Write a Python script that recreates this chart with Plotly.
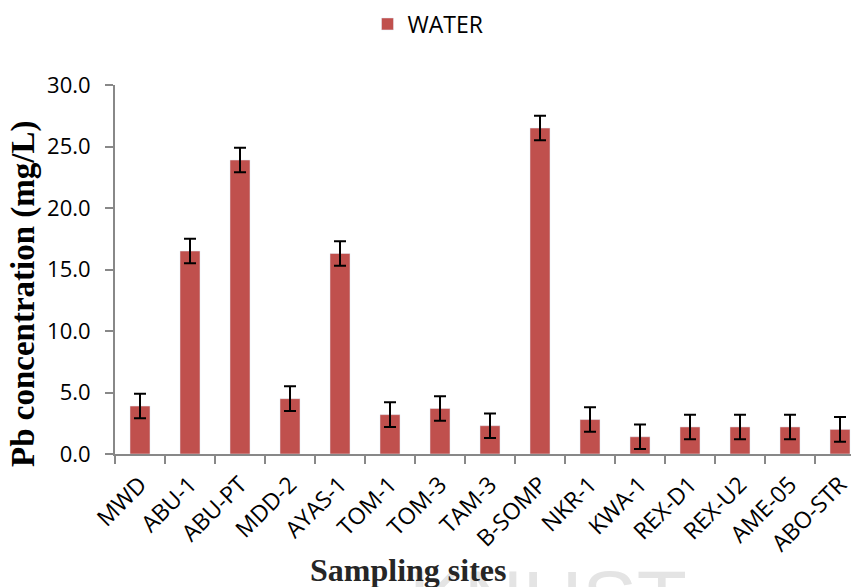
import plotly.graph_objects as go

sites = ["MWD", "ABU-1", "ABU-PT", "MDD-2", "AYAS-1", "TOM-1", "TOM-3", "TAM-3",
         "B-SOMP", "NKR-1", "KWA-1", "REX-D1", "REX-U2", "AME-05", "ABO-STR"]
pb_water = [3.9, 16.5, 23.9, 4.5, 16.3, 3.2, 3.7, 2.3, 26.5, 2.8, 1.4, 2.2, 2.2, 2.2, 2.0]
pb_err = [1.0, 1.0, 1.0, 1.0, 1.0, 1.0, 1.0, 1.0, 1.0, 1.0, 1.0, 1.0, 1.0, 1.0, 1.0]
y_ticks = [0, 5, 10, 15, 20, 25, 30]

W, H = 851, 579          # page body adds an 8px offset
L, T, PW, PH = 107, 77, 744, 369


def px(x):
    return (x - L) / PW


def py(y):
    return (T + PH - y) / PH


fig = go.Figure()
fig.add_trace(go.Bar(
    x=sites, y=pb_water, name="WATER",
    marker=dict(color="#C0504D"),
    width=0.4,
    error_y=dict(type="data", array=pb_err, visible=True, color="black",
                 thickness=2, width=6),
))

fig.update_layout(
    width=W, height=H,
    margin=dict(l=L, r=W - L - PW, t=T, b=H - T - PH, autoexpand=False),
    plot_bgcolor="white", paper_bgcolor="white",
    showlegend=True,
    legend=dict(orientation="h", xref="container", yref="container",
                x=420 / W, xanchor="center", y=1 - 16 / H, yanchor="middle",
                font=dict(family="Open Sans", size=23, color="black")),
    xaxis=dict(type="category", range=[-0.5, 14.38], automargin=False,
               showline=True, linecolor="#888888", linewidth=2,
               ticks="outside", tickson="boundaries", ticklen=8, tickcolor="#888888", tickwidth=2,
               tickangle=-45, ticklabelstandoff=6,
               tickfont=dict(family="Open Sans", size=23, color="black"),
               showgrid=False),
    yaxis=dict(range=[0, 30], tickvals=y_ticks, tickformat=".1f", automargin=False,
               showline=True, linecolor="#888888", linewidth=2,
               ticks="outside", ticklen=8, tickcolor="#888888", tickwidth=2,
               ticklabelstandoff=10,
               tickfont=dict(family="Open Sans", size=22, color="black"),
               showgrid=False, zeroline=False),
    annotations=[
        dict(text="KNUST", xref="paper", yref="paper", x=px(540), y=py(591),
             xanchor="center", yanchor="middle", showarrow=False,
             font=dict(family="Liberation Sans", size=82, color="#e4e4e4")),
        dict(text="<b>Sampling sites</b>", xref="paper", yref="paper",
             x=px(400), y=py(562), xanchor="center", yanchor="middle",
             showarrow=False,
             font=dict(family="Liberation Serif", size=32, color="#262626")),
        dict(text="<b>Pb concentration (mg/L)</b>", xref="paper", yref="paper",
             x=px(15), y=py(286), xanchor="center", yanchor="middle",
             showarrow=False, textangle=-90,
             font=dict(family="Liberation Serif", size=33, color="black")),
    ],
)

fig.write_html("out.html")
